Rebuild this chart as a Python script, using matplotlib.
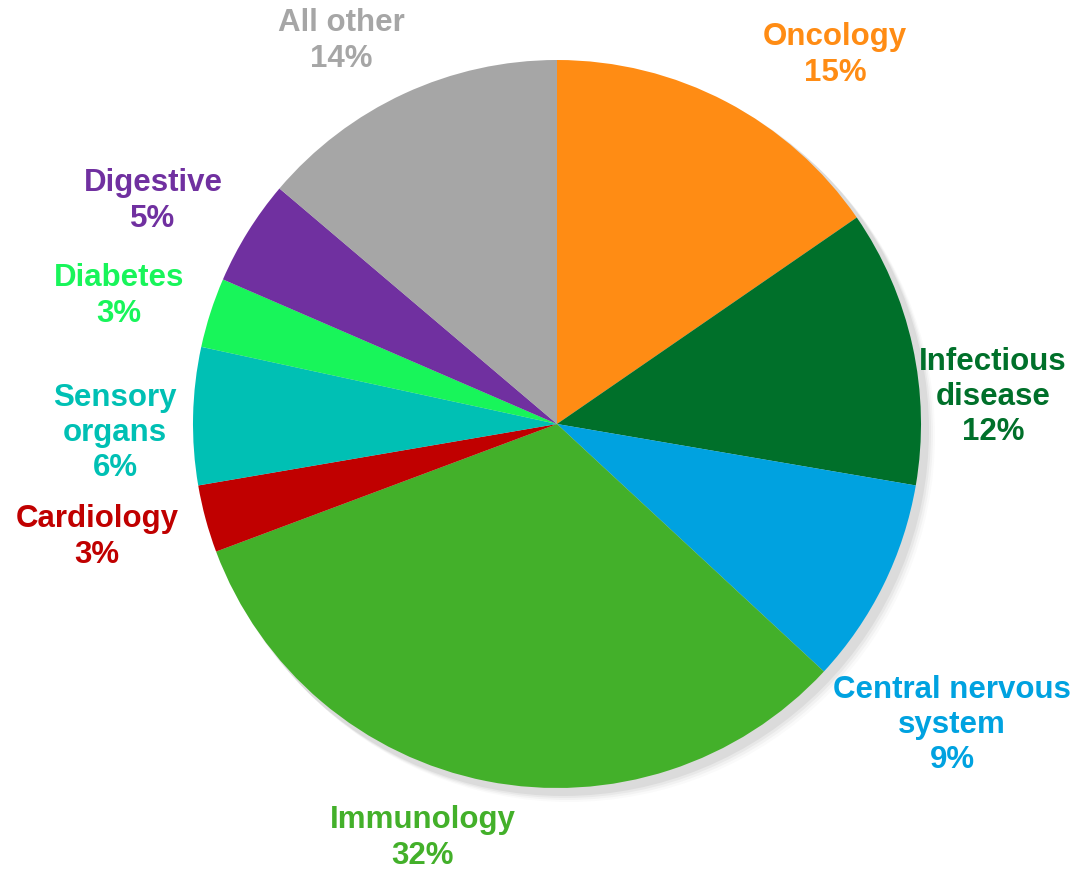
import matplotlib
matplotlib.use("Agg")
from matplotlib import pyplot as plt

# Share of pipeline by therapeutic area (clockwise from 12 o'clock)
areas = ["Oncology", "Infectious\ndisease", "Central nervous\nsystem", "Immunology",
         "Cardiology", "Sensory\norgans", "Diabetes", "Digestive", "All other"]
shares = [15.4, 12.3, 9.2, 32.4, 3.0, 6.1, 3.1, 4.7, 13.8]
pct_labels = ["15%", "12%", "9%", "32%", "3%", "6%", "3%", "5%", "14%"]
colors = ["#FF8C14", "#00702A", "#00A2E0", "#43B02A", "#C00000",
          "#00C0B4", "#18F55A", "#7030A0", "#A6A6A6"]

# label anchor points in pixel space (x, y from top)
label_pos = [(835, 55), (993, 397), (952, 725), (423, 838), (97, 537),
             (115, 433), (119, 296), (153, 201), (341, 41)]

W, H = 1081, 869
fig = plt.figure(figsize=(W / 100, H / 100), dpi=100)
ax = fig.add_axes([0, 0, 1, 1])

cx, cy, r = 557, H - 424, 364

# soft shadow behind the pie
for i, a in enumerate([0.05, 0.04, 0.03, 0.02]):
    ax.add_patch(plt.Circle((cx + 6 + i * 2, cy - 6 - i * 2), r + 2, color="black",
                            alpha=a, lw=0, zorder=0))

ax.pie(shares, colors=colors, startangle=90, counterclock=False,
       center=(cx, cy), radius=r, frame=True,
       wedgeprops=dict(linewidth=0))
ax.set_xlim(0, W)
ax.set_ylim(0, H)
ax.set_aspect("equal")
ax.axis("off")

for name, pct, c, (x, y) in zip(areas, pct_labels, colors, label_pos):
    ax.text(x, H - y, f"{name}\n{pct}", color=c, ha="center", va="center",
            fontsize=22.5, fontweight="bold", family="Liberation Sans",
            linespacing=1.22)

fig.savefig("out.png", dpi=100)
